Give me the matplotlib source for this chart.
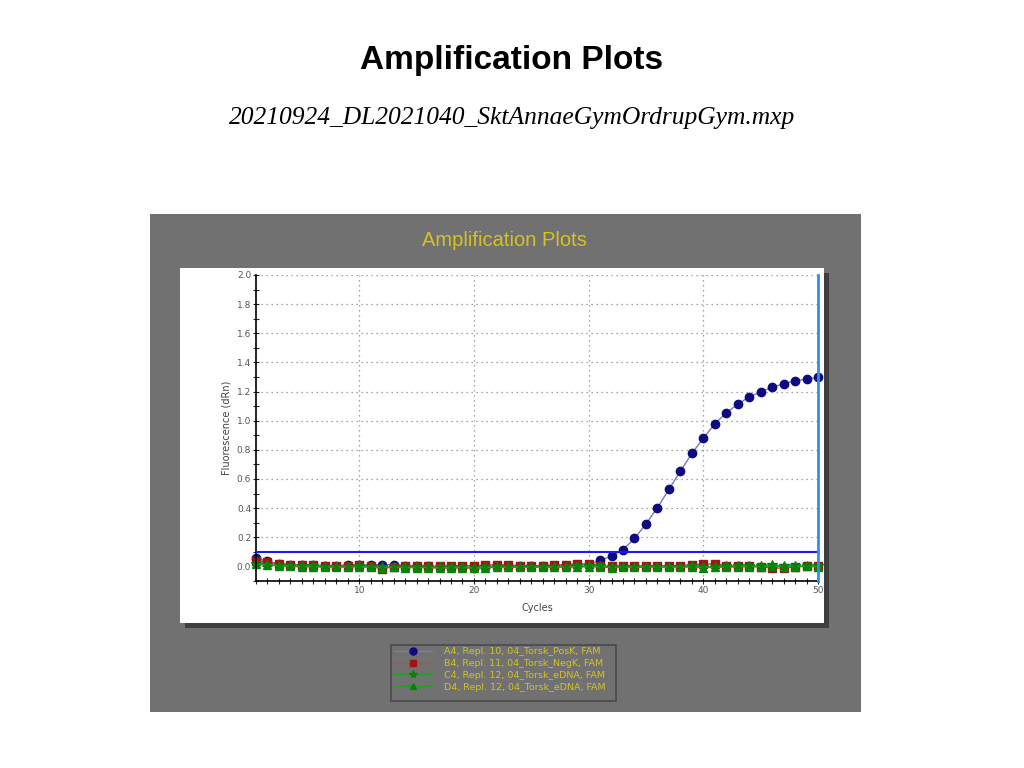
import matplotlib
matplotlib.use('Agg')
import matplotlib.pyplot as plt
from matplotlib.patches import Rectangle
from matplotlib.ticker import MultipleLocator

cycles = list(range(1, 51))

posk_a4 = [0.055, 0.035, 0.015, 0.010, 0.010, 0.010, 0.005, 0.005, 0.010, 0.010,
           0.012, 0.012, 0.012, 0.006, 0.003, 0.000, -0.003, -0.005, -0.005, -0.012,
           -0.005, 0.000, 0.003, 0.005, 0.003, 0.003, 0.003, 0.005, 0.008, 0.012,
           0.041, 0.071, 0.115, 0.192, 0.291, 0.403, 0.529, 0.653, 0.775, 0.880,
           0.978, 1.054, 1.113, 1.164, 1.198, 1.230, 1.253, 1.274, 1.285, 1.298]

negk_b4 = [0.035, 0.028, 0.020, 0.012, 0.012, 0.008, 0.003, 0.002, 0.006, 0.010,
           0.000, -0.015, -0.002, 0.000, 0.002, 0.000, 0.000, 0.002, 0.004, 0.006,
           0.008, 0.012, 0.010, 0.006, 0.004, 0.006, 0.010, 0.012, 0.018, 0.016,
           0.004, 0.000, 0.002, 0.004, 0.002, 0.004, 0.004, 0.006, 0.010, 0.016,
           0.018, 0.006, 0.002, 0.000, -0.002, -0.010, -0.012, -0.002, 0.002, 0.004]

edna_c4 = [0.020, 0.012, 0.006, 0.002, 0.000, 0.000, -0.002, -0.003, -0.002, 0.000,
           -0.004, -0.004, -0.004, -0.006, -0.006, -0.006, -0.007, -0.007, -0.006, -0.008,
           -0.006, -0.004, -0.003, -0.003, -0.004, -0.003, -0.002, -0.002, 0.000, 0.002,
           0.000, -0.004, -0.002, -0.002, -0.002, -0.002, -0.003, -0.002, 0.000, -0.004,
           -0.002, 0.000, 0.000, 0.004, 0.004, 0.008, 0.004, 0.002, 0.002, 0.000]

edna_d4 = [0.015, 0.010, 0.004, 0.000, -0.002, -0.002, -0.004, -0.004, -0.004, -0.002,
           -0.006, -0.008, -0.006, -0.008, -0.008, -0.008, -0.010, -0.010, -0.008, -0.012,
           -0.008, -0.006, -0.006, -0.006, -0.006, -0.006, -0.005, -0.004, -0.004, -0.002,
           -0.004, -0.008, -0.006, -0.006, -0.006, -0.004, -0.006, -0.004, -0.004, -0.008,
           -0.006, -0.004, -0.004, -0.002, -0.002, 0.000, -0.002, -0.002, 0.000, -0.002]

labels = ['A4, Repl. 10, 04_Torsk_PosK, FAM',
          'B4, Repl. 11, 04_Torsk_NegK, FAM',
          'C4, Repl. 12, 04_Torsk_eDNA, FAM',
          'D4, Repl. 12, 04_Torsk_eDNA, FAM']

threshold = 0.1

W, H = 1024, 768


def fx(x):
    return x / W


def fy(y):
    return 1 - y / H


fig = plt.figure(figsize=(10.24, 7.68), dpi=100)
fig.patch.set_facecolor('white')

# slide titles
fig.text(0.5, fy(60), 'Amplification Plots', ha='center', va='center',
         fontsize=24, fontweight='bold', family='Liberation Sans')
fig.text(0.5, fy(118), '20210924_DL2021040_SktAnnaeGymOrdrupGym.mxp', ha='center', va='center',
         fontsize=18.4, style='italic', family='Liberation Serif')

# grey screenshot panel
fig.patches.append(Rectangle((fx(150), fy(712)), fx(711), 498 / H, transform=fig.transFigure,
                             facecolor='#717171', edgecolor='none', zorder=-3))
fig.text(fx(504), fy(241), 'Amplification Plots', ha='center', va='center',
         fontsize=14.5, color='#d6c21e', family='Liberation Sans')

# white plot box with shadow
fig.patches.append(Rectangle((fx(185), fy(628)), fx(644), 355 / H, transform=fig.transFigure,
                             facecolor='#3e3e3e', edgecolor='none', zorder=-2))
fig.patches.append(Rectangle((fx(180), fy(623)), fx(644), 355 / H, transform=fig.transFigure,
                             facecolor='white', edgecolor='none', zorder=-1))

ax = fig.add_axes([fx(256), fy(581), fx(562), 306 / H])
ax.set_zorder(2)
ax.set_facecolor('none')

l1, = ax.plot(cycles, posk_a4, color='#7a7ab8', lw=1, marker='o', ms=6,
              mfc='#0c0c80', mec='#0c0c80', clip_on=False)
l2, = ax.plot(cycles, negk_b4, color='#b05050', lw=1, marker='s', ms=5.5,
              mfc='#a01414', mec='#a01414', clip_on=False)
l3, = ax.plot(cycles, edna_c4, color='#20a020', lw=1, marker='*', ms=7,
              mfc='#0a820a', mec='#0a820a', clip_on=False)
l4, = ax.plot(cycles, edna_d4, color='#20a020', lw=1, marker='^', ms=5.5,
              mfc='#0a820a', mec='#0a820a', clip_on=False)

ax.axhline(threshold, color='#1a1aee', lw=1.5, zorder=5)
ax.axvline(50, color='#2d92e6', lw=2, zorder=6, clip_on=False)

ax.set_xlim(1, 50)
ax.set_ylim(-0.1, 2.0)
ax.xaxis.set_major_locator(MultipleLocator(10))
ax.xaxis.set_minor_locator(MultipleLocator(1))
ax.yaxis.set_major_locator(MultipleLocator(0.2))
ax.yaxis.set_minor_locator(MultipleLocator(0.1))
ax.yaxis.set_major_formatter(plt.FuncFormatter(lambda v, p: f'{v:.1f}' if v > -0.05 else ''))
ax.tick_params(which='both', direction='inout', colors='#222222', labelcolor='#555555',
               labelsize=6.5, width=0.8)
ax.tick_params(which='major', length=5, pad=1)
ax.tick_params(which='minor', length=4)
ax.grid(True, which='major', linestyle=(0, (1, 3)), color='#888888', lw=0.9)
for side in ['top', 'right']:
    ax.spines[side].set_visible(False)
for side in ['left', 'bottom']:
    ax.spines[side].set_linewidth(1.2)
ax.set_xlabel('Cycles', fontsize=7, color='#444444', labelpad=6)
ax.set_ylabel('Fluorescence (dRn)', fontsize=7, color='#444444', labelpad=4)

# legend box
fig.patches.append(Rectangle((fx(391), fy(701)), fx(225), 56 / H, transform=fig.transFigure,
                             facecolor='#717171', edgecolor='#4a4a4a', lw=1.2, zorder=-1))
leg = fig.legend([l1, l2, l3, l4], labels, loc='upper left',
                 bbox_to_anchor=(fx(394), fy(647)), frameon=False,
                 fontsize=6.8, labelcolor='#d6c21e', handlelength=4.0,
                 labelspacing=0.3, handletextpad=1.3, borderaxespad=0, borderpad=0,
                 markerscale=0.85)

fig.savefig('out.png', dpi=100)
